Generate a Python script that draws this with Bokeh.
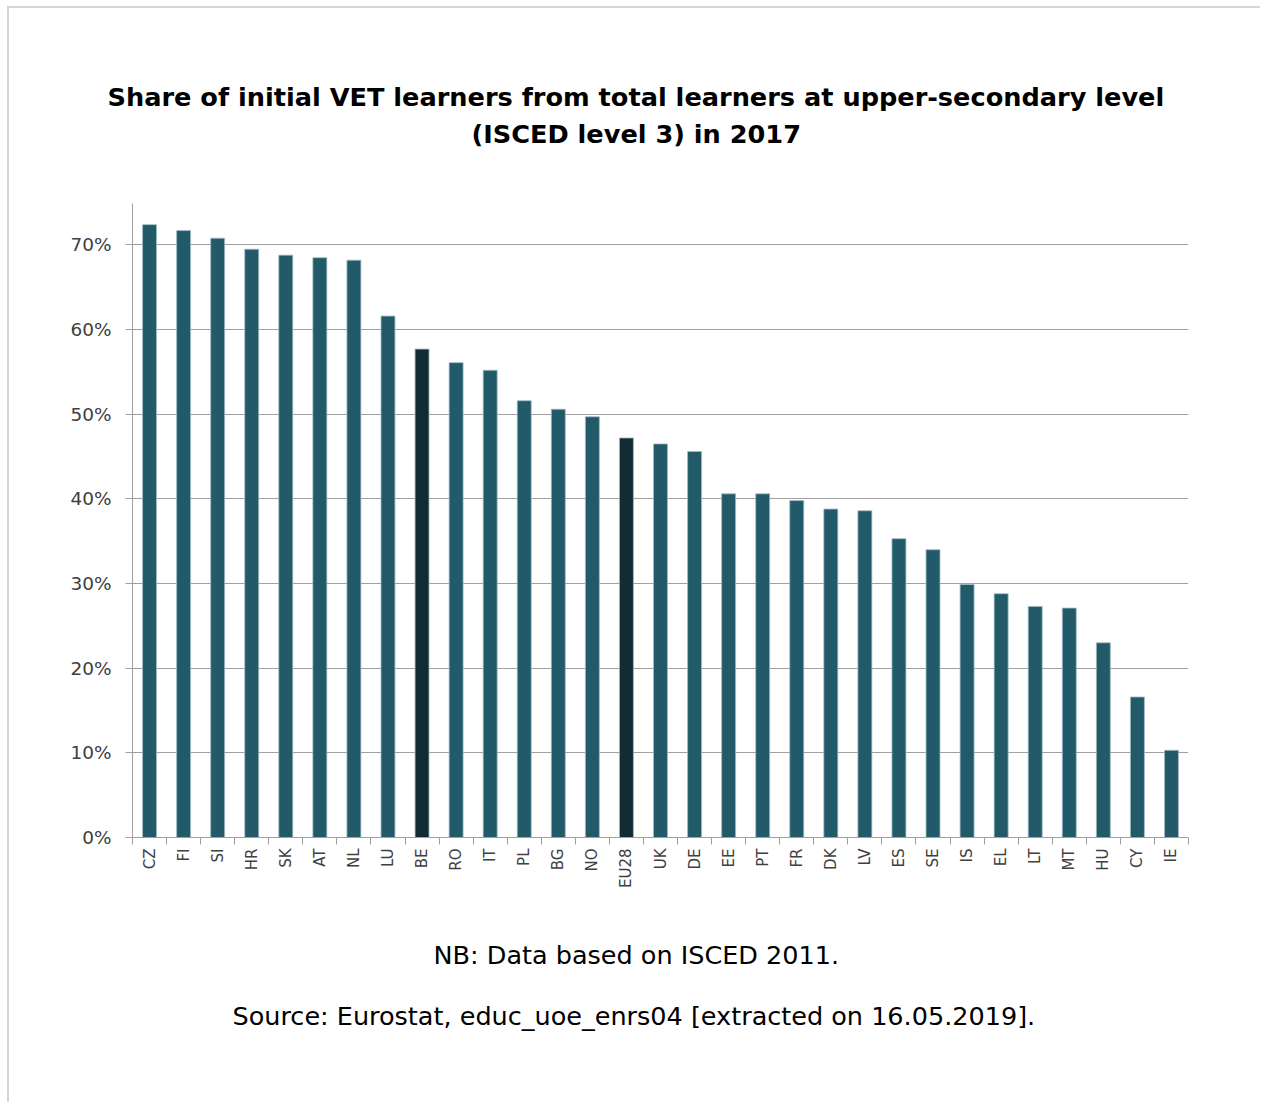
from math import pi
from bokeh.plotting import figure
from bokeh.models import ColumnDataSource, FixedTicker, NumeralTickFormatter, Range1d, Title
from bokeh.embed import file_html
from bokeh.resources import INLINE

countries = ["CZ", "FI", "SI", "HR", "SK", "AT", "NL", "LU", "BE", "RO", "IT", "PL", "BG", "NO",
             "EU28", "UK", "DE", "EE", "PT", "FR", "DK", "LV", "ES", "SE", "IS", "EL", "LT", "MT",
             "HU", "CY", "IE"]
shares = [72.4, 71.7, 70.8, 69.5, 68.8, 68.5, 68.2, 61.6, 57.7, 56.1, 55.2, 51.6, 50.6, 49.7,
          47.2, 46.5, 45.6, 40.6, 40.6, 39.8, 38.8, 38.6, 35.3, 34.0, 29.9, 28.8, 27.3, 27.1,
          23.0, 16.6, 10.3]
highlight = ["BE", "EU28"]
y_ticks = [0, 0.1, 0.2, 0.3, 0.4, 0.5, 0.6, 0.7]

title_line1 = "Share of initial VET learners from total learners at upper-secondary level"
title_line2 = "(ISCED level 3) in 2017"
note = "NB: Data based on ISCED 2011."
source_txt = "Source: Eurostat, educ_uoe_enrs04 [extracted on 16.05.2019]."

n = len(countries)
pos = [i + 0.5 for i in range(n)]
colors = ["#132C33" if c in highlight else "#225A69" for c in countries]
src = ColumnDataSource(dict(x=pos, top=[v / 100 for v in shares], color=colors, country=countries))

FONT = "DejaVu Sans"
GRAY = "#a0a0a0"

p = figure(width=1253, height=1096, output_backend="svg", toolbar_location=None,
           x_range=Range1d(0, n), y_range=Range1d(0, 0.749),
           min_border_left=123, min_border_right=74, min_border_top=195, min_border_bottom=267)
p.styles = {"margin-left": "7px", "margin-top": "6px",
            "border-left": "2px solid #d6d6d6", "border-top": "2px solid #d6d6d6"}
p.outline_line_color = None
p.background_fill_color = "white"
p.border_fill_color = "white"

p.vbar(x="x", top="top", bottom=0, width=0.41, source=src,
       fill_color="color", line_color="#9fbcc4", line_width=0.8)

# x axis
xa = p.xaxis[0]
xa.ticker = FixedTicker(ticks=pos, minor_ticks=list(range(n + 1)))
xa.major_label_overrides = {x: c for x, c in zip(pos, countries)}
xa.major_tick_in = 0
xa.major_tick_out = 0
xa.minor_tick_in = 0
xa.minor_tick_out = 7
xa.minor_tick_line_color = GRAY
xa.axis_line_color = GRAY
xa.major_label_orientation = pi / 2
xa.major_label_standoff = 4
xa.major_label_text_font = FONT
xa.major_label_text_font_size = "15px"
xa.major_label_text_color = "#404040"

# y axis
ya = p.yaxis[0]
ya.ticker = FixedTicker(ticks=y_ticks)
ya.formatter = NumeralTickFormatter(format="0%")
ya.major_tick_in = 0
ya.major_tick_out = 7
ya.minor_tick_line_color = None
ya.major_tick_line_color = GRAY
ya.axis_line_color = GRAY
ya.major_label_standoff = 14
ya.major_label_text_font = FONT
ya.major_label_text_font_size = "18.5px"
ya.major_label_text_color = "#404040"

p.xgrid.visible = False
p.ygrid.grid_line_color = GRAY
p.ygrid.grid_line_width = 1


def make_title(txt, offset, standoff, size, bold):
    return Title(text=txt, align="left", offset=offset, standoff=standoff,
                 text_font=FONT, text_font_size=size,
                 text_font_style="bold" if bold else "normal", text_color="black")


# above: stacked outward from the frame
p.add_layout(make_title(" ", 0, 39, "10px", False), "above")
p.add_layout(make_title(title_line2, 339, 5, "25.6px", True), "above")
p.add_layout(make_title(title_line1, -25, 6, "25.6px", True), "above")

# below: stacked outward from the axis
p.add_layout(make_title(" ", 0, 18, "10px", False), "below")
p.add_layout(make_title(note, 301, 30, "25.5px", False), "below")
p.add_layout(make_title(source_txt, 100, 28, "25.5px", False), "below")

open("out.html", "w").write(file_html(p, INLINE))
